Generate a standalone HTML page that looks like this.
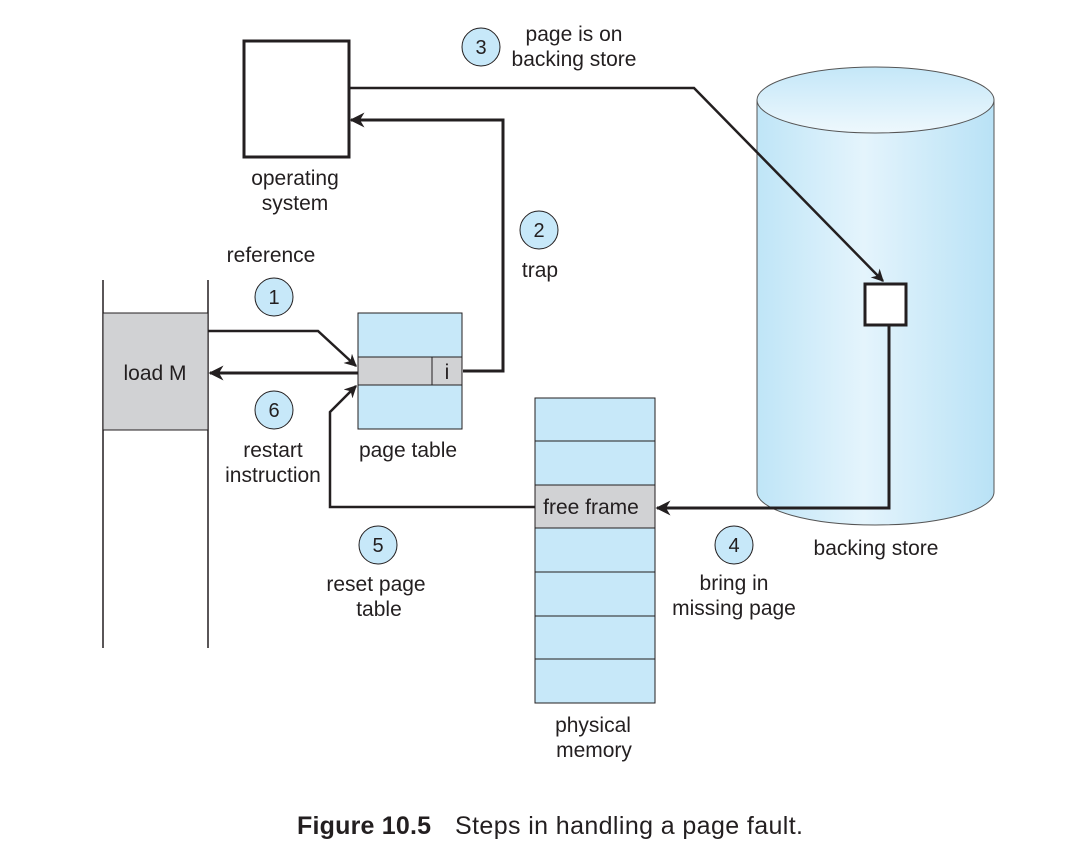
<!DOCTYPE html>
<html><head><style>
body{margin:0;background:#fff;}
svg text{font-family:"Liberation Sans",sans-serif;fill:#231f20;}
</style></head><body>
<svg width="1066" height="854" xmlns="http://www.w3.org/2000/svg">
<defs>
<linearGradient id="cyl" x1="0" x2="1" y1="0" y2="0">
<stop offset="0" stop-color="#bfe5f7"/><stop offset="0.45" stop-color="#e4f4fc"/><stop offset="1" stop-color="#b9e2f6"/>
</linearGradient>
<linearGradient id="top" x1="0" x2="0" y1="0" y2="1">
<stop offset="0" stop-color="#c4e7f8"/><stop offset="1" stop-color="#eef8fd"/>
</linearGradient>
<marker id="ah" viewBox="0 0 10 10" refX="9" refY="5" markerWidth="5" markerHeight="5" orient="auto-start-reverse">
<path d="M0,0 L10,5 L0,10 L3,5 z" fill="#231f20"/>
</marker>
</defs>
<path d="M757,100 L757,492 A118.5,33 0 0 0 994,492 L994,100 Z" fill="url(#cyl)" stroke="#555" stroke-width="1"/>
<ellipse cx="875.5" cy="100" rx="118.5" ry="33" fill="url(#top)" stroke="#555" stroke-width="1"/>
<rect x="865" y="284" width="41" height="41" fill="#fff" stroke="#231f20" stroke-width="3"/>
<rect x="244" y="41" width="105" height="116" fill="#fff" stroke="#231f20" stroke-width="3"/>
<line x1="103" y1="280" x2="103" y2="648" stroke="#231f20" stroke-width="1.5"/>
<line x1="208" y1="280" x2="208" y2="648" stroke="#231f20" stroke-width="1.5"/>
<rect x="103" y="313" width="105" height="117" fill="#d1d2d4" stroke="#231f20" stroke-width="1"/>
<text x="155" y="380" font-size="21" text-anchor="middle">load M</text>
<rect x="358" y="313" width="104" height="116" fill="#c7e8f9" stroke="#231f20" stroke-width="1"/>
<rect x="358" y="357" width="104" height="28" fill="#d1d2d4" stroke="#231f20" stroke-width="1"/>
<line x1="432" y1="357" x2="432" y2="385" stroke="#231f20" stroke-width="1"/>
<text x="447" y="379" font-size="21" text-anchor="middle">i</text>
<text x="408" y="457" font-size="21" text-anchor="middle">page table</text>
<rect x="535" y="398" width="120" height="305" fill="#c7e8f9" stroke="#231f20" stroke-width="1"/>
<rect x="535" y="485" width="120" height="43" fill="#d1d2d4" stroke="#231f20" stroke-width="1"/>
<g stroke="#231f20" stroke-width="1">
<line x1="535" y1="441" x2="655" y2="441"/><line x1="535" y1="572" x2="655" y2="572"/>
<line x1="535" y1="616" x2="655" y2="616"/><line x1="535" y1="659" x2="655" y2="659"/>
</g>
<text x="591" y="514" font-size="21" text-anchor="middle">free frame</text>
<text x="593" y="732" font-size="21" text-anchor="middle">physical</text>
<text x="594" y="757" font-size="21" text-anchor="middle">memory</text>
<g fill="none" stroke="#231f20">
<polyline points="349,88 694,88 883,281" stroke-width="2.5" marker-end="url(#ah)"/>
<polyline points="463,371 503,371 503,120 351,120" stroke-width="3" marker-end="url(#ah)"/>
<polyline points="208,331 318,331 356,366" stroke-width="2.5" marker-end="url(#ah)"/>
<line x1="358" y1="373" x2="210" y2="373" stroke-width="3" marker-end="url(#ah)"/>
<polyline points="535,507 330,507 330,412 356,386" stroke-width="2.5" marker-end="url(#ah)"/>
<polyline points="889,326 889,508 657,508" stroke-width="3" marker-end="url(#ah)"/>
</g>
<g fill="#c7e8f9" stroke="#231f20" stroke-width="1">
<circle cx="274" cy="297" r="19"/><circle cx="539" cy="230" r="19"/>
<circle cx="481" cy="47" r="19"/><circle cx="734" cy="545" r="19"/>
<circle cx="378" cy="545" r="19"/><circle cx="274" cy="410" r="19"/>
</g>
<g font-size="20" text-anchor="middle">
<text x="274" y="304">1</text><text x="539" y="237">2</text><text x="481" y="54">3</text>
<text x="734" y="552">4</text><text x="378" y="552">5</text><text x="274" y="417">6</text>
</g>
<g font-size="21" text-anchor="middle">
<text x="574" y="41">page is on</text><text x="574" y="66">backing store</text>
<text x="295" y="185">operating</text><text x="295" y="210">system</text>
<text x="271" y="262">reference</text>
<text x="540" y="277">trap</text>
<text x="273" y="457">restart</text><text x="273" y="482">instruction</text>
<text x="376" y="591">reset page</text><text x="379" y="616">table</text>
<text x="734" y="590">bring in</text><text x="734" y="615">missing page</text>
<text x="876" y="555">backing store</text>
</g>
<text x="297" y="834" font-size="25" font-weight="bold" textLength="134">Figure 10.5</text>
<text x="455" y="834" font-size="25" textLength="348">Steps in handling a page fault.</text>
</svg>
</body></html>
